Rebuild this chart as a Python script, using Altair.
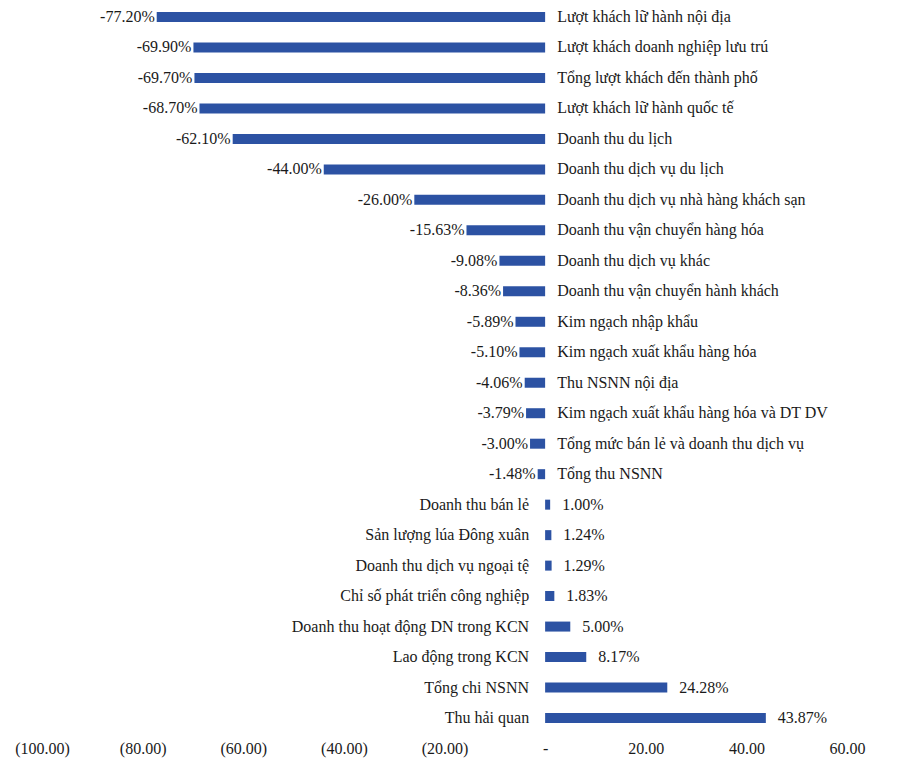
import altair as alt
import pandas as pd

categories = [
    "Lượt khách lữ hành nội địa",
    "Lượt khách doanh nghiệp lưu trú",
    "Tổng lượt khách đến thành phố",
    "Lượt khách lữ hành quốc tế",
    "Doanh thu du lịch",
    "Doanh thu dịch vụ du lịch",
    "Doanh thu dịch vụ nhà hàng khách sạn",
    "Doanh thu vận chuyển hàng hóa",
    "Doanh thu dịch vụ khác",
    "Doanh thu vận chuyển hành khách",
    "Kim ngạch nhập khẩu",
    "Kim ngạch xuất khẩu hàng hóa",
    "Thu NSNN nội địa",
    "Kim ngạch xuất khẩu hàng hóa và DT DV",
    "Tổng mức bán lẻ và doanh thu dịch vụ",
    "Tổng thu NSNN",
    "Doanh thu bán lẻ",
    "Sản lượng lúa Đông xuân",
    "Doanh thu dịch vụ ngoại tệ",
    "Chỉ số phát triển công nghiệp",
    "Doanh thu hoạt động DN trong KCN",
    "Lao động trong KCN",
    "Tổng chi NSNN",
    "Thu hải quan",
]
values = [
    -77.20, -69.90, -69.70, -68.70, -62.10, -44.00, -26.00, -15.63,
    -9.08, -8.36, -5.89, -5.10, -4.06, -3.79, -3.00, -1.48,
    1.00, 1.24, 1.29, 1.83, 5.00, 8.17, 24.28, 43.87,
]
tick_values = [-100, -80, -60, -40, -20, 0, 20, 40, 60]

df = pd.DataFrame({"cat": categories, "value": values})
df["label"] = [f"{v:.2f}%" for v in values]

FONT = "Liberation Serif"
FS = 16
BLUE = "#2C52A3"
TXT = "#1a1a1a"

x_enc_scale = alt.Scale(domain=[-100, 60], nice=False, zero=False)
y_enc = alt.Y("cat:N", sort=categories,
              scale=alt.Scale(type="point", padding=0), axis=None)

label_expr = ("datum.value < 0 ? '(' + format(-datum.value, '.2f') + ')' : "
              "(datum.value == 0 ? '-' : format(datum.value, '.2f'))")

base = alt.Chart(df)

bars = base.mark_bar(size=10, color=BLUE).encode(
    x=alt.X("value:Q", scale=x_enc_scale,
            axis=alt.Axis(values=tick_values, labelExpr=label_expr,
                          grid=False, domain=False, ticks=False,
                          labelFont=FONT, labelFontSize=FS, labelColor=TXT,
                          labelPadding=22, title=None, labelFlush=False)),
    y=y_enc,
)

neg_val = base.transform_filter("datum.value < 0").mark_text(
    align="right", baseline="middle", dx=-2, font=FONT, fontSize=FS, color=TXT
).encode(x="value:Q", y=y_enc, text="label:N")

pos_val = base.transform_filter("datum.value > 0").mark_text(
    align="left", baseline="middle", dx=12, font=FONT, fontSize=FS, color=TXT
).encode(x="value:Q", y=y_enc, text="label:N")

neg_cat = base.transform_filter("datum.value < 0").mark_text(
    align="left", baseline="middle", dx=12, font=FONT, fontSize=FS, color=TXT
).encode(x=alt.datum(0), y=y_enc, text="cat:N")

pos_cat = base.transform_filter("datum.value > 0").mark_text(
    align="right", baseline="middle", dx=-16, font=FONT, fontSize=FS, color=TXT
).encode(x=alt.datum(0), y=y_enc, text="cat:N")

chart = alt.layer(bars, neg_val, pos_val, neg_cat, pos_cat).properties(
    width=805,
    height=701,
    autosize=alt.AutoSizeParams(type="none"),
    padding={"left": 34, "right": 40, "top": 9, "bottom": 42},
    background="white",
).configure_view(stroke=None)

chart.save("out.html", embed_options={"renderer": "svg", "actions": False})
